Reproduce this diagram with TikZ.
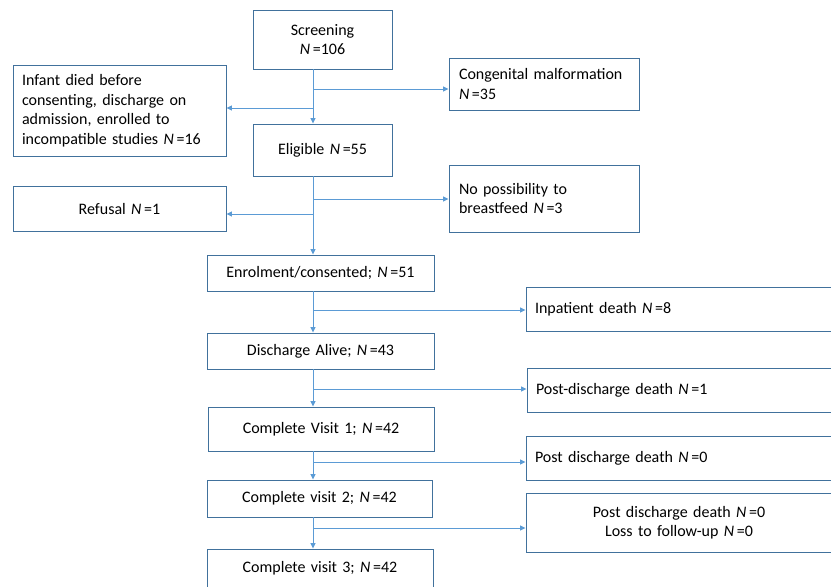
\documentclass[tikz,border=0pt]{standalone}
\usepackage{fontspec}
\setmainfont{Carlito}
\usetikzlibrary{arrows.meta}
\definecolor{boxc}{HTML}{41719C}
\definecolor{arrc}{HTML}{5B9BD5}
\newcommand{\NN}{\textit{N}\,}
\begin{document}
\begin{tikzpicture}[x=1pt,y=-1pt,
  box/.style={draw=boxc, line width=0.9pt, inner ysep=0pt, font=\fontsize{16}{19.5}\selectfont},
  arr/.style={draw=arrc, line width=0.9pt, -{Triangle[length=5.5pt,width=5pt]}}]
\useasboundingbox (0,0) rectangle (831,587);
% main column
\node[box, minimum width=139pt, minimum height=59pt, text width=125pt, inner xsep=7pt, align=center] (scr) at (322.5,39.5) {Screening\\\NN=106};
\node[box, minimum width=139pt, minimum height=52pt, text width=125pt, inner xsep=7pt, align=center] (eli) at (322.5,150) {Eligible \NN=55};
\node[box, minimum width=227pt, minimum height=36pt, text width=213pt, inner xsep=7pt, align=center] (enr) at (320.5,273) {Enrolment/consented; \NN=51};
\node[box, minimum width=227pt, minimum height=36pt, text width=213pt, inner xsep=7pt, align=center] (dis) at (320.5,351) {Discharge Alive; \NN=43};
\node[box, minimum width=226pt, minimum height=44pt, text width=212pt, inner xsep=7pt, align=center] (v1) at (321,429) {Complete Visit 1; \NN=42};
\node[box, minimum width=225pt, minimum height=37pt, text width=211pt, inner xsep=7pt, align=center] (v2) at (319.5,498.5) {Complete visit 2; \NN=42};
\node[box, minimum width=226pt, minimum height=52pt, text width=212pt, inner xsep=7pt, align=center, text depth=17pt] (v3) at (320,575) {Complete visit 3; \NN=42};
% left boxes
\node[box, minimum width=213pt, minimum height=91pt, text width=195pt, inner xsep=9pt, align=left] (inf) at (119.5,110.5) {Infant died before\\consenting, discharge on\\admission, enrolled to\\incompatible studies \NN=16};
\node[box, minimum width=213pt, minimum height=45pt, text width=195pt, inner xsep=9pt, align=center] (ref) at (119.5,208.5) {Refusal \NN=1};
% right boxes
\node[box, minimum width=190pt, minimum height=52pt, text width=170pt, inner xsep=10pt, align=left] (con) at (544,84) {Congenital malformation\\\NN=35};
\node[box, minimum width=190pt, minimum height=67pt, text width=170pt, inner xsep=10pt, align=left] (nop) at (544,198.5) {No possibility to\\breastfeed \NN=3};
\node[box, minimum width=306pt, minimum height=44pt, text width=288pt, inner xsep=9pt, align=left] (inp) at (679,309) {Inpatient death \NN=8};
\node[box, minimum width=305pt, minimum height=44pt, text width=287pt, inner xsep=9pt, align=left] (pd1) at (679.5,390) {Post-discharge death \NN=1};
\node[box, minimum width=306pt, minimum height=44pt, text width=288pt, inner xsep=9pt, align=left] (pd0) at (679,458) {Post discharge death \NN=0};
\node[box, minimum width=306pt, minimum height=59pt, text width=288pt, inner xsep=9pt, align=center] (pl) at (679,522.5) {Post discharge death \NN=0\\Loss to follow-up \NN=0};
% main line
\coordinate (m) at (313,0);
\draw[arr] (scr.south -| m) -- (eli.north -| m);
\draw[arr] (eli.south -| m) -- (enr.north -| m);
\draw[arr] (enr.south -| m) -- (dis.north -| m);
\draw[arr] (dis.south -| m) -- (v1.north -| m);
\draw[arr] (v1.south -| m) -- (v2.north -| m);
\draw[arr] (v2.south -| m) -- (v3.north -| m);
% branches
\coordinate (b1) at (313,89);
\coordinate (b2) at (313,108);
\coordinate (b3) at (313,199);
\coordinate (b4) at (313,214);
\coordinate (b5) at (313,310);
\coordinate (b6) at (313,389);
\coordinate (b7) at (313,462);
\coordinate (b8) at (313,528);
\draw[arr] (b1) -- (b1 -| con.west);
\draw[arr] (b2) -- (b2 -| inf.east);
\draw[arr] (b3) -- (b3 -| nop.west);
\draw[arr] (b4) -- (b4 -| ref.east);
\draw[arr] (b5) -- (b5 -| inp.west);
\draw[arr] (b6) -- (b6 -| pd1.west);
\draw[arr] (b7) -- (b7 -| pd0.west);
\draw[arr] (b8) -- (b8 -| pl.west);
\end{tikzpicture}
\end{document}
